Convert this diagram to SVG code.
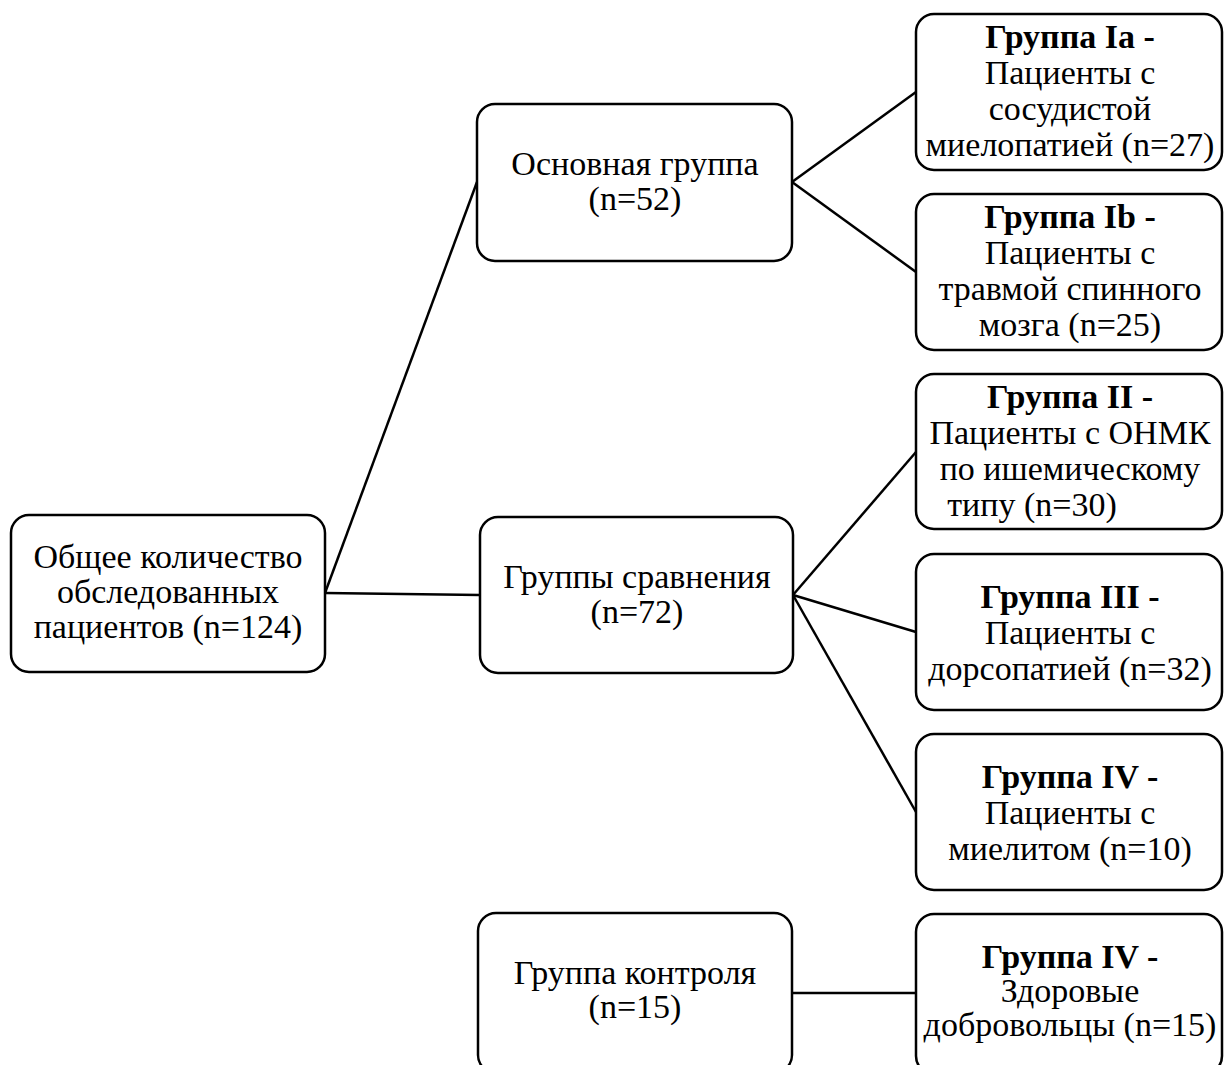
<svg xmlns="http://www.w3.org/2000/svg" width="1224" height="1065" viewBox="0 0 1224 1065">
<style>
.box{fill:#fff;stroke:#000;stroke-width:2.5}
.t{font-family:"Liberation Serif","Times New Roman",serif;font-size:34px;fill:#000;text-anchor:middle}
.b{font-weight:bold}
.c{stroke:#000;stroke-width:2.5;fill:none}
</style>
<rect width="1224" height="1065" fill="#fff"/>
<g id="connectors">
<line class="c" x1="325" y1="593" x2="477" y2="182"/>
<line class="c" x1="325" y1="593" x2="480" y2="595"/>
<line class="c" x1="792" y1="182" x2="916" y2="92"/>
<line class="c" x1="792" y1="182" x2="916" y2="272"/>
<line class="c" x1="793" y1="595" x2="916" y2="452"/>
<line class="c" x1="793" y1="595" x2="916" y2="632"/>
<line class="c" x1="793" y1="595" x2="916" y2="812"/>
<line class="c" x1="792" y1="993" x2="916" y2="993"/>
</g>
<g id="root">
<rect class="box" x="11" y="515" width="314" height="157" rx="18"/>
<text class="t" x="168" y="568">Общее количество</text>
<text class="t" x="168" y="603">обследованных</text>
<text class="t" x="168" y="638">пациентов (n=124)</text>
</g>
<g id="main">
<rect class="box" x="477" y="104" width="315" height="157" rx="18"/>
<text class="t" x="635" y="175">Основная группа</text>
<text class="t" x="635" y="210">(n=52)</text>
</g>
<g id="compare">
<rect class="box" x="480" y="517" width="313" height="156" rx="18"/>
<text class="t" x="637" y="588">Группы сравнения</text>
<text class="t" x="637" y="623">(n=72)</text>
</g>
<g id="control">
<rect class="box" x="478" y="913" width="314" height="160" rx="18"/>
<text class="t" x="635" y="984">Группа контроля</text>
<text class="t" x="635" y="1018">(n=15)</text>
</g>
<g id="g1a">
<rect class="box" x="916" y="14" width="306" height="156" rx="18"/>
<text class="t b" x="1070" y="48">Группа Ia -</text>
<text class="t" x="1070" y="84">Пациенты с</text>
<text class="t" x="1070" y="120">сосудистой</text>
<text class="t" x="1070" y="156">миелопатией (n=27)</text>
</g>
<g id="g1b">
<rect class="box" x="916" y="194" width="306" height="156" rx="18"/>
<text class="t b" x="1070" y="228">Группа Ib -</text>
<text class="t" x="1070" y="264">Пациенты с</text>
<text class="t" x="1070" y="300">травмой спинного</text>
<text class="t" x="1070" y="336">мозга (n=25)</text>
</g>
<g id="g2">
<rect class="box" x="916" y="374" width="306" height="155" rx="18"/>
<text class="t b" x="1070" y="408">Группа II -</text>
<text class="t" x="1070" y="444">Пациенты с ОНМК</text>
<text class="t" x="1070" y="480">по ишемическому</text>
<text class="t" x="1032" y="516">типу (n=30)</text>
</g>
<g id="g3">
<rect class="box" x="916" y="554" width="306" height="156" rx="18"/>
<text class="t b" x="1070" y="608">Группа III -</text>
<text class="t" x="1070" y="644">Пациенты с</text>
<text class="t" x="1070" y="680">дорсопатией (n=32)</text>
</g>
<g id="g4">
<rect class="box" x="916" y="734" width="306" height="156" rx="18"/>
<text class="t b" x="1070" y="788">Группа IV -</text>
<text class="t" x="1070" y="824">Пациенты с</text>
<text class="t" x="1070" y="860">миелитом (n=10)</text>
</g>
<g id="g5">
<rect class="box" x="916" y="914" width="306" height="160" rx="18"/>
<text class="t b" x="1070" y="968">Группа IV -</text>
<text class="t" x="1070" y="1002">Здоровые</text>
<text class="t" x="1070" y="1036">добровольцы (n=15)</text>
</g>
</svg>
